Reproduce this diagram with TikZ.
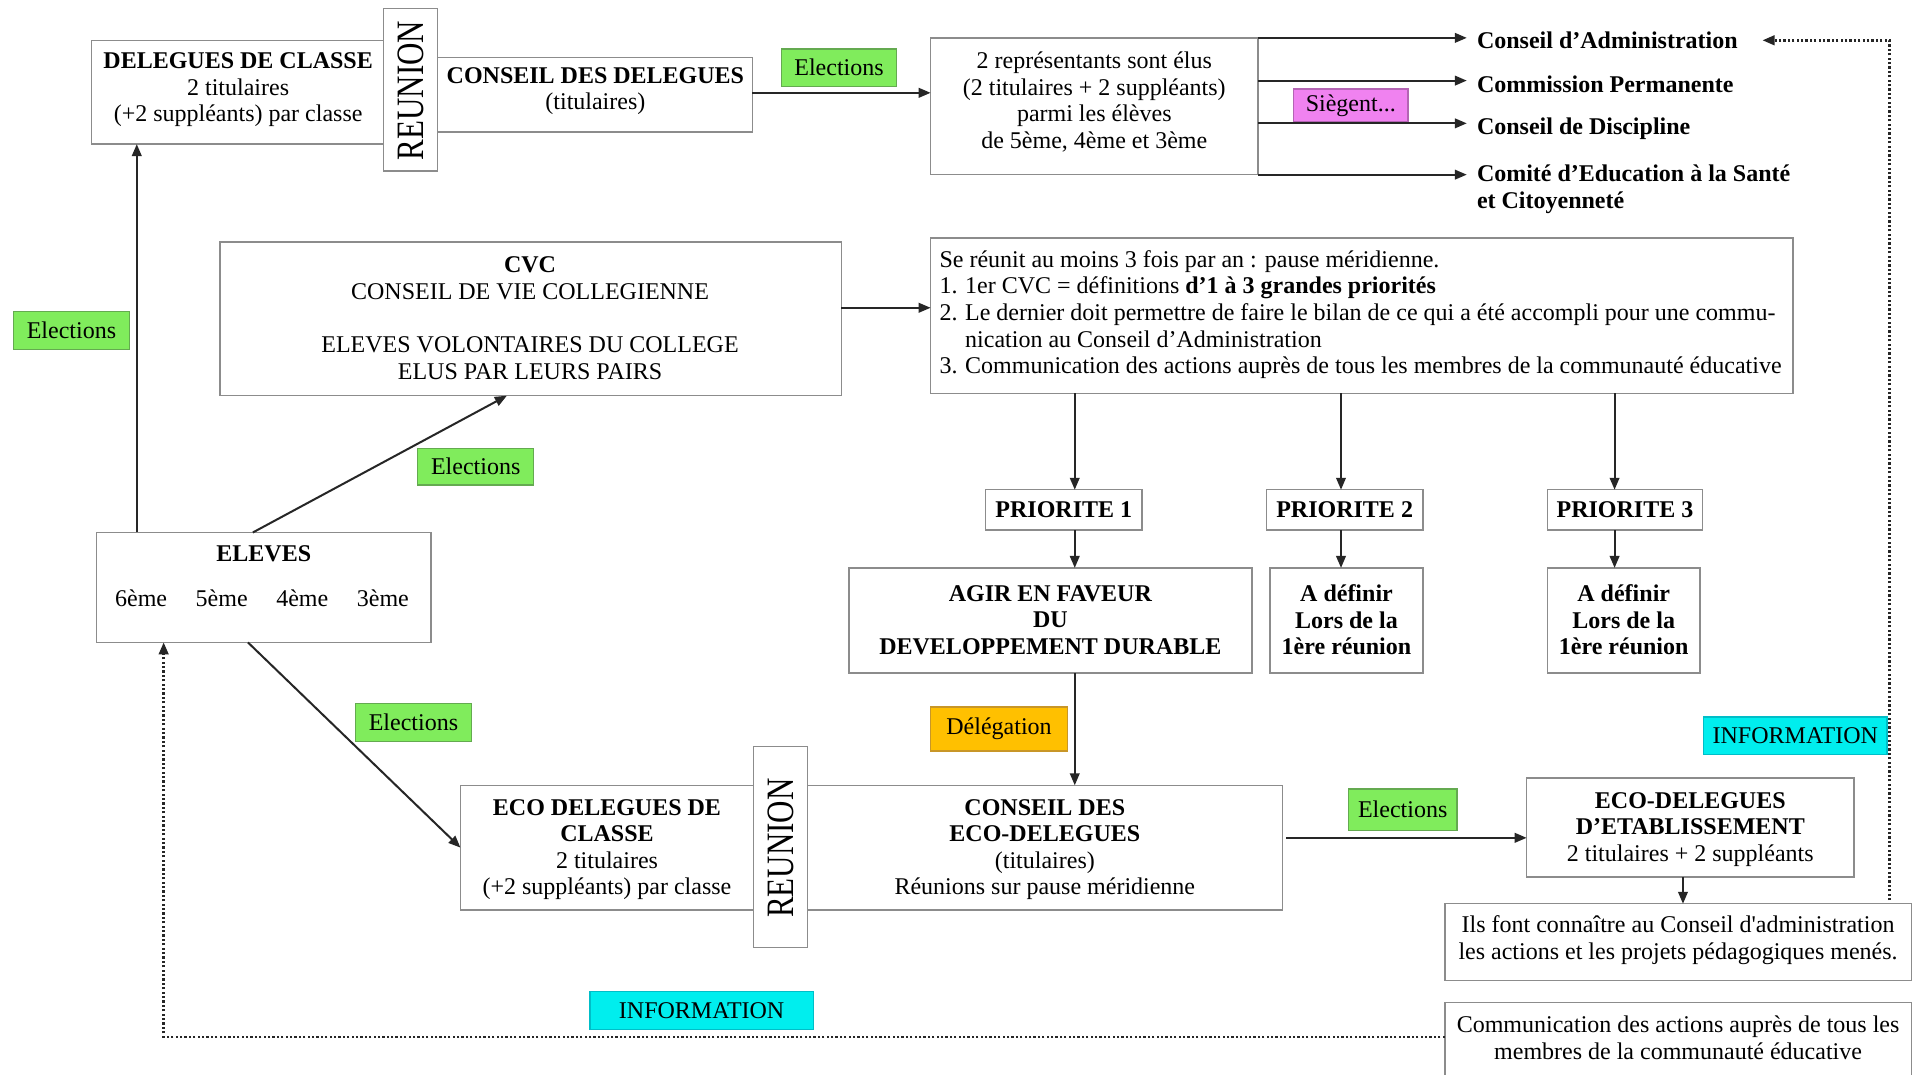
\documentclass[tikz,border=0pt]{standalone}
\usepackage{fontspec}
\setmainfont{Liberation Serif}
\usepackage{graphicx}
\usetikzlibrary{arrows.meta,calc}
\definecolor{elgreen}{RGB}{128,236,92}
\definecolor{elgreenb}{RGB}{100,170,80}
\definecolor{infocyan}{RGB}{0,238,238}
\definecolor{infocyanb}{RGB}{0,190,200}
\definecolor{delorange}{RGB}{255,192,0}
\definecolor{delorangeb}{RGB}{200,150,40}
\definecolor{siegpink}{RGB}{240,130,240}
\definecolor{siegpinkb}{RGB}{180,100,180}
\def\un{0.6107pt}
\newcommand\mkbox[6][]{\node[box,#1,minimum width={(#5-#3)*\un},minimum height={(#6-#4)*\un}] (#2) at ({(#3+#5)/2},{(#4+#6)/2}) {};}
\newcommand\mktag[7][]{\node[box,#1,minimum width={(#5-#3)*\un},minimum height={(#6-#4)*\un}] (#2) at ({(#3+#5)/2},{(#4+#6)/2}) {#7};}
\tikzset{
  box/.style={draw=black!45,line width=0.7pt,fill=white,inner sep=0pt,outer sep=0pt,font=\fontsize{12}{13.3}\selectfont},
  txt/.style={align=center,inner sep=0pt,yshift=-1.6pt,font=\fontsize{12}{13.3}\selectfont},
  onetxt/.style={align=center,inner sep=0pt,font=\fontsize{12}{13.3}\selectfont},
  lbl/.style={align=left,anchor=west,inner ysep=0pt,inner xsep=4.9pt,font=\fontsize{12}{13.3}\selectfont\bfseries},
  arr/.style={draw=black!85,line width=1pt,-{Triangle[length=6pt,width=4.8pt]}},
  dotarr/.style={draw=black!85,line width=1.2pt,dash pattern=on 1.1pt off 1.1pt,-{Triangle[length=6pt,width=4.8pt]}},
  greentag/.style={fill=elgreen,draw=elgreenb},
  cyantag/.style={fill=infocyan,draw=infocyanb},
  orangetag/.style={fill=delorange,draw=delorangeb},
  pinktag/.style={fill=siegpink,draw=siegpinkb},
  boldbox/.style={font=\fontsize{12}{13.3}\selectfont\bfseries},
}
\begin{document}
\begin{tikzpicture}[x=0.6107pt,y=-0.6107pt]
\fill[white] (0,0) rectangle (1568,880);
\useasboundingbox (0,0) rectangle (1568,880);

% ---------- top row ----------
\mkbox{dele}{75}{33}{315}{118}
\node[txt] (dele-t) at (195,71) {\textbf{DELEGUES DE CLASSE}\\2 titulaires\\(+2 suppléants) par classe};
\mkbox{cdd}{358}{47}{616}{108}
\node[txt] (cdd-t) at (487.5,72) {\textbf{CONSEIL DES DELEGUES}\\(titulaires)};
\mkbox{reu1}{314}{7}{358}{140}
\node[onetxt,rotate=90] (reu1-t) at (336,74) {\scalebox{1}[1.25]{\fontsize{15.5}{15.5}\selectfont REUNION}};
\mktag[greentag]{el1}{640}{40}{734}{71}{Elections}
\mkbox{rep}{762}{31}{1030}{143}
\node[txt] (rep-t) at (896,81) {2 représentants sont élus\\(2 titulaires + 2 suppléants)\\parmi les élèves\\de 5ème, 4ème et 3ème};
\mktag[pinktag]{sieg}{1059}{73}{1153}{100}{Siègent...}
\node[lbl] (ca) at (1201,33) {Conseil d’Administration};
\node[lbl] (cp) at (1201,69) {Commission Permanente};
\node[lbl] (cd) at (1201,105) {Conseil de Discipline};
\node[lbl] (ces) at (1201,155) {Comité d’Education à la Santé\\et Citoyenneté};

% ---------- CVC row ----------
\mkbox{cvc}{180}{198}{689}{324}
\node[txt] (cvc-t) at (434,258) {\textbf{CVC}\\CONSEIL DE VIE COLLEGIENNE\\\mbox{}\\ELEVES VOLONTAIRES DU COLLEGE\\ELUS PAR LEURS PAIRS};
\mkbox{lst}{762}{195}{1468}{322}
\node[txt,align=left,anchor=west] (lst-t) at (769,255) {Se réunit au moins 3 fois par an : pause méridienne.\\
\makebox[12.8pt][l]{1.}1er CVC = définitions \textbf{d’1 à 3 grandes priorités}\\
\makebox[12.8pt][l]{2.}Le dernier doit permettre de faire le bilan de ce qui a été accompli pour une commu-\\
\hspace*{12.8pt}nication au Conseil d’Administration\\
\makebox[12.8pt][l]{3.}Communication des actions auprès de tous les membres de la communauté éducative};
\mktag[greentag]{el2}{11}{255}{106}{286}{Elections}
\mktag[greentag]{el3}{342}{367}{437}{397}{Elections}

% ---------- priorities ----------
\mktag[boldbox]{p1}{807}{401}{935}{434}{PRIORITE 1}
\mktag[boldbox]{p2}{1037}{401}{1165}{434}{PRIORITE 2}
\mktag[boldbox]{p3}{1267}{401}{1394}{434}{PRIORITE 3}
\mkbox{agir}{695}{465}{1025}{551}
\node[txt,font=\fontsize{12}{13.3}\selectfont\bfseries] (agir-t) at (860,505) {AGIR EN FAVEUR\\DU\\DEVELOPPEMENT DURABLE};
\mkbox{a2}{1040}{465}{1165}{551}
\node[txt,font=\fontsize{12}{13.3}\selectfont\bfseries] (a2-t) at (1102.5,505) {A définir\\Lors de la\\1ère réunion};
\mkbox{a3}{1267}{465}{1392}{551}
\node[txt,font=\fontsize{12}{13.3}\selectfont\bfseries] (a3-t) at (1329.5,505) {A définir\\Lors de la\\1ère réunion};

% ---------- eleves ----------
\mkbox{eleves}{79}{436}{353}{526}
\node[onetxt,font=\fontsize{12}{13.3}\selectfont\bfseries] (eleves-t) at (216,453) {ELEVES};
\node[onetxt] (grades) at (214.5,490) {\makebox[40.3pt]{6ème}\makebox[40.3pt]{5ème}\makebox[40.3pt]{4ème}\makebox[40.3pt]{3ème}};
\mktag[greentag]{el4}{291}{576}{386}{607}{Elections}
\mktag[orangetag]{deleg}{762}{579}{874}{615}{Délégation}

% ---------- eco row ----------
\mkbox{eco1}{377}{643}{617}{745}
\node[txt] (eco1-t) at (497,693) {\textbf{ECO DELEGUES DE}\\\textbf{CLASSE}\\2 titulaires\\(+2 suppléants) par classe};
\mkbox{ceco}{661}{643}{1050}{745}
\node[txt] (ceco-t) at (855.5,693) {\textbf{CONSEIL DES}\\\textbf{ECO-DELEGUES}\\(titulaires)\\Réunions sur pause méridienne};
\mkbox{reu2}{617}{611}{661}{776}
\node[onetxt,rotate=90] (reu2-t) at (639,694.5) {\scalebox{1}[1.25]{\fontsize{15.5}{15.5}\selectfont REUNION}};
\mktag[greentag]{el5}{1104}{646}{1193}{680}{Elections}
\mkbox{ecoet}{1250}{637}{1518}{718}
\node[txt] (ecoet-t) at (1384,676.5) {\textbf{ECO-DELEGUES}\\\textbf{D’ETABLISSEMENT}\\2 titulaires + 2 suppléants};
\mktag[cyantag]{info2}{1395}{587}{1545}{618}{INFORMATION}
\mkbox{ils}{1183}{740}{1565}{803}
\node[txt] (ils-t) at (1374,767) {Ils font connaître au Conseil d\textquotesingle administration\\les actions et les projets pédagogiques menés.};
\mkbox{comm}{1183}{821}{1565}{895}
\node[txt] (comm-t) at (1374,847) {Communication des actions auprès de tous les\\membres de la communauté éducative};
\mktag[cyantag]{info1}{483}{812}{666}{843}{INFORMATION}

% ---------- connectors ----------
\draw[arr] ($(eleves.north west)+(33,0)$) -- ($(dele.south west)+(37,0)$);
\draw[arr] ($(eleves.north west)+(128,0)$) -- ($(cvc.south west)+(235,0)$);
\draw[arr] ($(eleves.south west)+(124,0)$) -- (eco1.west);
\coordinate (c0) at ($(cdd.east)+(0,-1.5)$);
\draw[arr] (c0) -- (c0 -| rep.west);
\draw[arr] (rep.north east) -- (rep.north east -| ca.west);
\coordinate (r2) at ($(rep.north east)+(0,35)$);
\draw[arr] (r2) -- (r2 -| cp.west);
\coordinate (r3) at ($(rep.north east)+(0,70)$);
\draw[arr] (r3) -- (r3 -| cd.west);
\draw[arr] (rep.south east) -- (rep.south east -| ces.west);
\coordinate (c1) at ($(cvc.east)+(0,-9)$);
\draw[arr] (c1) -- (c1 -| lst.west);
\draw[arr] ($(lst.south west)+(118,0)$) -- ($(p1.north west)+(73,0)$);
\draw[arr] ($(lst.south west)+(336,0)$) -- ($(p2.north west)+(61,0)$);
\draw[arr] ($(lst.south west)+(560,0)$) -- ($(p3.north west)+(55,0)$);
\draw[arr] ($(p1.south west)+(73,0)$) -- ($(agir.north west)+(185,0)$);
\draw[arr] ($(p2.south west)+(61,0)$) -- ($(a2.north west)+(58,0)$);
\draw[arr] ($(p3.south west)+(55,0)$) -- ($(a3.north west)+(55,0)$);
\draw[arr] ($(agir.south west)+(185,0)$) -- ($(ceco.north west)+(219,0)$);
\coordinate (e1) at ($(ceco.east)+(3,-8)$);
\draw[arr] (e1) -- (e1 -| ecoet.west);
\draw[arr] ($(ecoet.south west)+(128,0)$) -- ($(ils.north west)+(195,0)$);
\coordinate (d1) at ($(ils.north west)+(364,-3)$);
\draw[dotarr] (d1) |- ($(ca.east)+(12,0)$);
\coordinate (d2) at ($(comm.north west)+(0,28)$);
\draw[dotarr] (d2) -| ($(eleves.south west)+(55,0)$);
\end{tikzpicture}
\end{document}
